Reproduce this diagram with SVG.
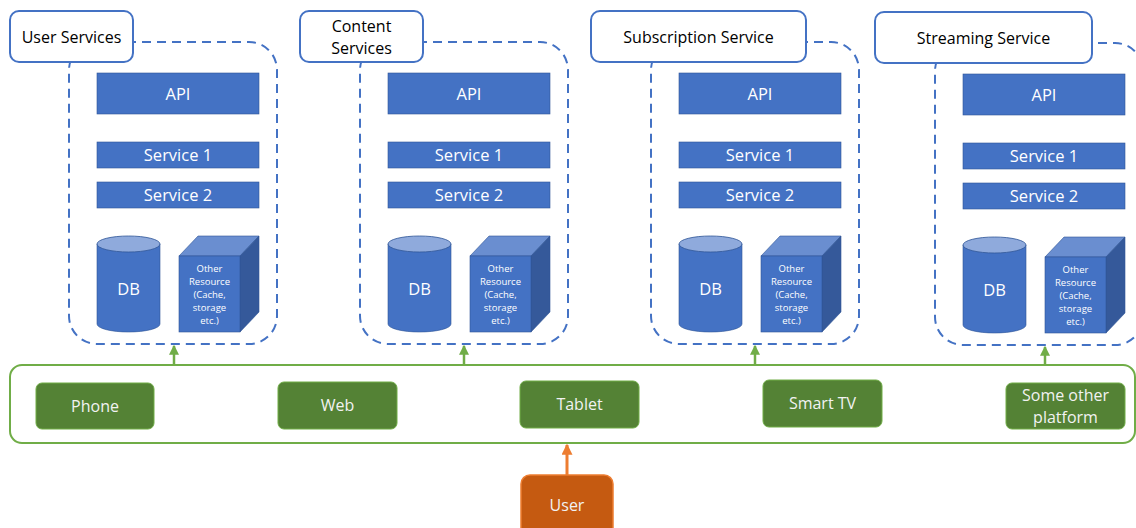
<svg xmlns="http://www.w3.org/2000/svg" width="1136" height="528" viewBox="0 0 1136 528">
<style>
  text { font-family: "Open Sans", "Noto Sans", "DejaVu Sans", sans-serif; }
  .dash { fill: none; stroke: #4472C4; stroke-width: 2; stroke-dasharray: 9 6; }
  .lbl { fill: #fff; stroke: #4472C4; stroke-width: 2; }
  .lbltxt { fill: #000; font-size: 16px; text-anchor: middle; }
  .blue { fill: #4472C4; stroke: #2F5597; stroke-width: 0.6; }
  .wt { fill: #fff; font-size: 16.5px; text-anchor: middle; }
  .small { fill: #fff; font-size: 9.5px; text-anchor: middle; }
  .cyltop { fill: #8FAADC; stroke: #2F5597; stroke-width: 0.8; }
  .cubetop { fill: #6A8ED0; stroke: #2F5597; stroke-width: 0.6; }
  .cubeside { fill: #35599A; stroke: #2F5597; stroke-width: 0.6; }
  .green { fill: #548235; stroke: #70AD47; stroke-width: 1; }
  .gtxt { fill: #F2F2F2; font-size: 16px; text-anchor: middle; }
  .garrow { stroke: #70AD47; stroke-width: 2.5; fill: none; }
  .oarrow { stroke: #ED7D31; stroke-width: 3; fill: none; }
</style>
<defs>
  <marker id="gh" markerWidth="10" markerHeight="10" refX="7" refY="4" orient="auto" markerUnits="userSpaceOnUse" viewBox="0 0 8 8">
    <path d="M0,0 L8,4 L0,8 Z" fill="#70AD47"/>
  </marker>
  <marker id="oh" markerWidth="11" markerHeight="11" refX="7" refY="4" orient="auto" markerUnits="userSpaceOnUse" viewBox="0 0 8 8">
    <path d="M0,0 L8,4 L0,8 Z" fill="#ED7D31"/>
  </marker>
</defs>

<!-- User Services -->
<g id="user-services">
  <rect class="dash" x="69" y="42" width="208" height="302" rx="28"/>
  <rect class="lbl" x="10" y="11" width="123" height="51" rx="9"/>
  <text class="lbltxt" x="71.5" y="42.5">User Services</text>
  <rect class="blue" x="97" y="73" width="162" height="41"/>
  <text class="wt" x="178" y="99.5">API</text>
  <rect class="blue" x="97" y="142" width="162" height="26"/>
  <text class="wt" x="178" y="161">Service 1</text>
  <rect class="blue" x="97" y="182" width="162" height="26"/>
  <text class="wt" x="178" y="201">Service 2</text>
  <path class="blue" d="M97,244 L97,324 A31.5,8 0 0 0 160,324 L160,244 Z"/>
  <ellipse class="cyltop" cx="128.5" cy="244" rx="31.5" ry="8"/>
  <text class="wt" x="128.5" y="295">DB</text>
  <polygon class="cubetop" points="179,256 198,236 259,236 240,256"/>
  <polygon class="cubeside" points="240,256 259,236 259,312 240,332"/>
  <rect class="blue" x="179" y="256" width="61" height="76"/>
  <text class="small" x="209.5" y="272">Other</text>
  <text class="small" x="209.5" y="285">Resource</text>
  <text class="small" x="209.5" y="298">(Cache,</text>
  <text class="small" x="209.5" y="311">storage</text>
  <text class="small" x="209.5" y="324">etc.)</text>
</g>

<!-- Content Services -->
<g id="content-services">
  <g transform="translate(291,0)">
    <rect class="dash" x="69" y="42" width="208" height="302" rx="28"/>
    <rect class="blue" x="97" y="73" width="162" height="41"/>
    <text class="wt" x="178" y="99.5">API</text>
    <rect class="blue" x="97" y="142" width="162" height="26"/>
    <text class="wt" x="178" y="161">Service 1</text>
    <rect class="blue" x="97" y="182" width="162" height="26"/>
    <text class="wt" x="178" y="201">Service 2</text>
    <path class="blue" d="M97,244 L97,324 A31.5,8 0 0 0 160,324 L160,244 Z"/>
    <ellipse class="cyltop" cx="128.5" cy="244" rx="31.5" ry="8"/>
    <text class="wt" x="128.5" y="295">DB</text>
    <polygon class="cubetop" points="179,256 198,236 259,236 240,256"/>
    <polygon class="cubeside" points="240,256 259,236 259,312 240,332"/>
    <rect class="blue" x="179" y="256" width="61" height="76"/>
    <text class="small" x="209.5" y="272">Other</text>
    <text class="small" x="209.5" y="285">Resource</text>
    <text class="small" x="209.5" y="298">(Cache,</text>
    <text class="small" x="209.5" y="311">storage</text>
    <text class="small" x="209.5" y="324">etc.)</text>
  </g>
  <rect class="lbl" x="300" y="11" width="123" height="51" rx="9"/>
  <text class="lbltxt" x="361.5" y="32">Content</text>
  <text class="lbltxt" x="361.5" y="53.5">Services</text>
</g>

<!-- Subscription Service -->
<g id="subscription-service">
  <g transform="translate(582,0)">
    <rect class="dash" x="69" y="42" width="208" height="302" rx="28"/>
    <rect class="blue" x="97" y="73" width="162" height="41"/>
    <text class="wt" x="178" y="99.5">API</text>
    <rect class="blue" x="97" y="142" width="162" height="26"/>
    <text class="wt" x="178" y="161">Service 1</text>
    <rect class="blue" x="97" y="182" width="162" height="26"/>
    <text class="wt" x="178" y="201">Service 2</text>
    <path class="blue" d="M97,244 L97,324 A31.5,8 0 0 0 160,324 L160,244 Z"/>
    <ellipse class="cyltop" cx="128.5" cy="244" rx="31.5" ry="8"/>
    <text class="wt" x="128.5" y="295">DB</text>
    <polygon class="cubetop" points="179,256 198,236 259,236 240,256"/>
    <polygon class="cubeside" points="240,256 259,236 259,312 240,332"/>
    <rect class="blue" x="179" y="256" width="61" height="76"/>
    <text class="small" x="209.5" y="272">Other</text>
    <text class="small" x="209.5" y="285">Resource</text>
    <text class="small" x="209.5" y="298">(Cache,</text>
    <text class="small" x="209.5" y="311">storage</text>
    <text class="small" x="209.5" y="324">etc.)</text>
  </g>
  <rect class="lbl" x="591" y="11" width="215" height="51" rx="9"/>
  <text class="lbltxt" x="698.5" y="42.5">Subscription Service</text>
</g>

<!-- Streaming Service -->
<g id="streaming-service">
  <g transform="translate(866,1)">
    <rect class="dash" x="69" y="42" width="208" height="302" rx="28"/>
    <rect class="blue" x="97" y="73" width="162" height="41"/>
    <text class="wt" x="178" y="99.5">API</text>
    <rect class="blue" x="97" y="142" width="162" height="26"/>
    <text class="wt" x="178" y="161">Service 1</text>
    <rect class="blue" x="97" y="182" width="162" height="26"/>
    <text class="wt" x="178" y="201">Service 2</text>
    <path class="blue" d="M97,244 L97,324 A31.5,8 0 0 0 160,324 L160,244 Z"/>
    <ellipse class="cyltop" cx="128.5" cy="244" rx="31.5" ry="8"/>
    <text class="wt" x="128.5" y="295">DB</text>
    <polygon class="cubetop" points="179,256 198,236 259,236 240,256"/>
    <polygon class="cubeside" points="240,256 259,236 259,312 240,332"/>
    <rect class="blue" x="179" y="256" width="61" height="76"/>
    <text class="small" x="209.5" y="272">Other</text>
    <text class="small" x="209.5" y="285">Resource</text>
    <text class="small" x="209.5" y="298">(Cache,</text>
    <text class="small" x="209.5" y="311">storage</text>
    <text class="small" x="209.5" y="324">etc.)</text>
  </g>
  <rect class="lbl" x="875" y="12" width="217" height="51" rx="9"/>
  <text class="lbltxt" x="983.5" y="43.5">Streaming Service</text>
</g>

<!-- Platforms -->
<g id="platforms">
  <rect x="10" y="365" width="1125" height="78" rx="12" fill="#fff" stroke="#70AD47" stroke-width="2"/>
</g>
<g id="phone">
  <rect class="green" x="36" y="383" width="118" height="46" rx="6"/>
  <text class="gtxt" x="95" y="411.5">Phone</text>
</g>
<g id="web">
  <rect class="green" x="278" y="382" width="119" height="47" rx="6"/>
  <text class="gtxt" x="337.5" y="411">Web</text>
</g>
<g id="tablet">
  <rect class="green" x="520" y="381" width="119" height="47" rx="6"/>
  <text class="gtxt" x="579.5" y="410">Tablet</text>
</g>
<g id="smart-tv">
  <rect class="green" x="763" y="380" width="119" height="47" rx="6"/>
  <text class="gtxt" x="822.5" y="409">Smart TV</text>
</g>
<g id="other-platform">
  <rect class="green" x="1006" y="383" width="119" height="46" rx="6"/>
  <text class="gtxt" x="1065.5" y="401">Some other</text>
  <text class="gtxt" x="1065.5" y="423">platform</text>
</g>

<g id="user">
  <rect x="521" y="475" width="92" height="64" rx="9" fill="#C55A11" stroke="#ED7D31" stroke-width="1.5"/>
  <text x="567" y="511" fill="#F2F2F2" font-size="16px" text-anchor="middle">User</text>
</g>

<!-- Connectors -->
<g id="connectors">
  <line class="garrow" x1="174" y1="365" x2="174" y2="346" marker-end="url(#gh)"/>
  <line class="garrow" x1="464" y1="365" x2="464" y2="346" marker-end="url(#gh)"/>
  <line class="garrow" x1="755" y1="365" x2="755" y2="346" marker-end="url(#gh)"/>
  <line class="garrow" x1="1045" y1="365" x2="1045" y2="347" marker-end="url(#gh)"/>
  <line class="oarrow" x1="567" y1="475" x2="567" y2="445" marker-end="url(#oh)"/>
</g>
</svg>
